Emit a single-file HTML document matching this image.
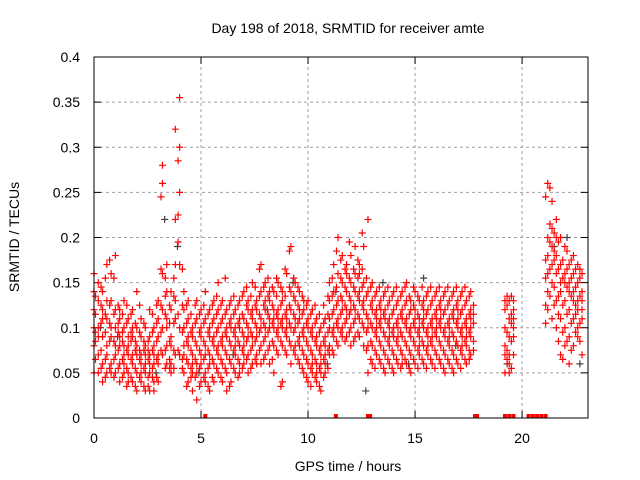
<!DOCTYPE html>
<html><head><meta charset="utf-8"><style>
html,body{margin:0;padding:0;background:#fff}
svg{display:block;font-family:"Liberation Sans",sans-serif}
</style></head><body>
<svg id="chart" width="640" height="480" viewBox="0 0 640 480">
<rect width="640" height="480" fill="#fff"/>
<text x="348" y="33" font-size="14" text-anchor="middle">Day 198 of 2018, SRMTID for receiver amte</text>
<text x="348" y="471" font-size="14" text-anchor="middle">GPS time / hours</text>
<text transform="translate(19,237) rotate(-90)" font-size="14" text-anchor="middle">SRMTID / TECUs</text>
<g id="grid"></g>
<g id="ticks"></g>
<g id="marks"></g>
<rect x="94" y="57" width="494" height="361" fill="none" stroke="#000" stroke-width="1"/>
</svg>
<script>
const xTicks=[0,5,10,15,20];
const yTicks=[0,0.05,0.1,0.15,0.2,0.25,0.3,0.35,0.4];
const yTickLabels=["0","0.05","0.1","0.15","0.2","0.25","0.3","0.35","0.4"];
const redRows=[
[0.0,.08,.12,.16,.05,.10,.14],[0.2,.10,.07,.13,.05,.09,.15],[0.4,.09,.06,.12,.04,.14,.11],
[0.6,.08,.05,.11,.17,.13,.07],[0.8,.10,.06,.09,.13,.16,.05],[1.0,.07,.18,.10,.05,.12,.08],
[1.2,.09,.06,.12,.04,.08,.11],[1.4,.07,.10,.05,.13,.08,.06],[1.6,.08,.05,.11,.07,.09,.04],
[1.8,.06,.09,.12,.07,.04,.10],[2.0,.07,.05,.10,.03,.08,.14],[2.2,.06,.09,.04,.11,.07,.05],
[2.4,.08,.03,.06,.10,.05,.07],[2.6,.05,.09,.03,.07,.12,.06],[2.8,.07,.04,.10,.06,.03,.08],
[3.0,.09,.13,.06,.11,.07,.04],[3.2,.26,.28,.16,.12,.07,.10],[3.4,.17,.14,.08,.11,.06,.10],
[3.6,.09,.12,.06,.14,.08,.05],[3.8,.22,.32,.11,.07,.13,.17],[4.0,.355,.30,.25,.17,.10,.07],
[4.2,.12,.08,.05,.10,.07,.14],[4.4,.09,.06,.11,.04,.08,.13],[4.6,.07,.05,.10,.03,.09,.06],
[4.8,.08,.02,.11,.06,.13,.05],[5.0,.09,.06,.12,.04,.07,.10],[5.2,.08,.05,.11,.07,.14,.04],
[5.4,.06,.09,.03,.12,.07,.10],[5.6,.08,.04,.11,.06,.09,.13],[5.8,.07,.10,.05,.08,.12,.15],
[6.0,.09,.06,.11,.04,.08,.13],[6.2,.07,.10,.05,.09,.12,.03],[6.4,.08,.06,.11,.04,.10,.13],
[6.6,.09,.07,.12,.05,.10,.08],[6.8,.10,.06,.13,.08,.11,.05],[7.0,.08,.11,.06,.14,.09,.07],
[7.2,.10,.07,.12,.05,.09,.13],[7.4,.09,.12,.06,.11,.08,.15],[7.6,.10,.07,.13,.09,.06,.12],
[7.8,.11,.08,.14,.06,.10,.17],[8.0,.12,.09,.15,.07,.10,.13],[8.2,.10,.13,.08,.11,.06,.14],
[8.4,.11,.08,.14,.10,.12,.05],[8.6,.09,.12,.07,.15,.11,.10],[8.8,.10,.13,.08,.11,.04,.14],
[9.0,.12,.09,.16,.07,.11,.10],[9.2,.10,.14,.08,.19,.12,.06],[9.4,.11,.08,.13,.10,.15,.07],
[9.6,.09,.12,.06,.11,.14,.08],[9.8,.10,.07,.13,.09,.05,.12],[10.0,.08,.11,.06,.10,.13,.04],
[10.2,.07,.10,.05,.09,.12,.06],[10.4,.06,.09,.04,.08,.11,.05],[10.6,.07,.05,.10,.03,.08,.06],
[10.8,.08,.06,.11,.05,.09,.07],[11.0,.10,.13,.08,.15,.07,.11],[11.2,.12,.09,.14,.17,.10,.07],
[11.4,.13,.10,.16,.20,.11,.08],[11.6,.12,.15,.10,.18,.09,.13],[11.8,.14,.11,.17,.09,.12,.16],
[12.0,.13,.10,.15,.12,.18,.08],[12.2,.12,.16,.09,.14,.11,.19],[12.4,.14,.11,.17,.09,.13,.16],
[12.6,.12,.15,.10,.19,.08,.13],[12.8,.11,.22,.14,.08,.10,.05],[13.0,.10,.13,.08,.12,.06,.15],
[13.2,.11,.09,.14,.07,.12,.10],[13.4,.10,.12,.08,.13,.06,.11],[13.6,.09,.12,.07,.11,.14,.05],
[13.8,.10,.08,.13,.06,.11,.09],[14.0,.09,.12,.07,.10,.14,.05],[14.2,.10,.08,.13,.06,.11,.09],
[14.4,.11,.09,.14,.07,.12,.06],[14.6,.10,.13,.08,.11,.06,.15],[14.8,.09,.12,.07,.10,.13,.05],
[15.0,.10,.08,.12,.06,.11,.14],[15.2,.09,.11,.07,.13,.08,.10],[15.4,.10,.13,.08,.11,.06,.12],
[15.6,.09,.12,.07,.10,.14,.08],[15.8,.10,.08,.13,.06,.11,.09],[16.0,.11,.09,.14,.07,.12,.10],
[16.2,.10,.13,.08,.11,.06,.12],[16.4,.09,.12,.07,.14,.10,.05],[16.6,.10,.08,.13,.06,.11,.09],
[16.8,.11,.09,.14,.07,.12,.05],[17.0,.10,.13,.08,.11,.06,.12],[17.2,.09,.12,.07,.10,.14,.08],
[17.4,.10,.08,.13,.06,.11,.09],[17.6,.11,.09,.14,.07,.12,.10],
[19.2,.13,.10,.07,.05,.12,.08],[19.4,.11,.07,.06,.13,.09,.05],[19.6,.12,.10,.07,.09,.13,.11],
[21.2,.14,.18,.20,.12,.26,.16],[21.4,.21,.17,.24,.15,.19,.11],[21.6,.20,.16,.13,.18,.22,.10],
[21.8,.17,.14,.20,.11,.07,.15],[22.0,.16,.13,.19,.10,.15,.08],[22.2,.15,.12,.17,.09,.14,.06],
[22.4,.14,.11,.16,.08,.13,.18],[22.6,.15,.12,.17,.10,.13,.09],[22.8,.16,.13,.11,.14,.07,.12]
];
const redRows2=[
[0.07,.085,.115,.065,.135,.095],[0.33,.075,.105,.145,.055,.125],[0.53,.095,.065,.155,.045,.115],
[0.73,.085,.125,.055,.105,.175],[0.93,.065,.115,.085,.155,.045],[1.13,.095,.075,.125,.055,.105],
[1.33,.085,.065,.115,.045,.095],[1.53,.075,.055,.105,.035,.125],[1.73,.065,.095,.045,.085,.115],
[1.93,.075,.055,.105,.035,.085],[2.13,.065,.045,.095,.075,.125],[2.33,.055,.085,.035,.075,.105],
[2.53,.065,.045,.085,.035,.075],[2.73,.075,.055,.095,.045,.115],[2.93,.085,.065,.045,.105,.125],
[3.13,.165,.245,.075,.125,.095],[3.33,.115,.155,.075,.055,.135],[3.53,.085,.065,.125,.105,.055],
[3.73,.075,.105,.135,.055,.155],[3.93,.195,.285,.225,.115,.075],[4.13,.095,.125,.065,.165,.055],
[4.33,.085,.105,.065,.125,.035],[4.53,.075,.095,.055,.115,.045],[4.73,.065,.085,.045,.105,.125],
[4.93,.075,.055,.095,.035,.115],[5.13,.085,.065,.105,.045,.125],[5.33,.075,.095,.055,.115,.035],
[5.53,.085,.065,.105,.125,.045],[5.73,.075,.095,.055,.115,.135],[5.93,.085,.105,.065,.125,.045],
[6.13,.075,.095,.055,.115,.155],[6.33,.085,.065,.105,.035,.125],[6.53,.095,.075,.115,.055,.135],
[6.73,.085,.105,.065,.125,.045],[6.93,.095,.075,.115,.055,.135],[7.13,.085,.105,.065,.125,.145],
[7.33,.095,.115,.075,.135,.055],[7.53,.105,.085,.125,.065,.145],[7.73,.095,.115,.075,.135,.165],
[7.93,.105,.085,.125,.065,.145],[8.13,.115,.095,.135,.075,.155],[8.33,.105,.125,.085,.145,.065],
[8.53,.115,.095,.135,.075,.155],[8.73,.105,.125,.085,.145,.035],[8.93,.115,.095,.135,.075,.165],
[9.13,.105,.125,.085,.145,.185],[9.33,.115,.095,.135,.075,.155],[9.53,.105,.125,.085,.145,.065],
[9.73,.095,.115,.075,.135,.055],[9.93,.085,.105,.065,.125,.045],[10.13,.075,.095,.055,.115,.035],
[10.33,.065,.085,.045,.105,.125],[10.53,.075,.055,.095,.035,.115],[10.73,.085,.065,.105,.045,.125],
[10.93,.095,.115,.075,.135,.055],[11.13,.115,.135,.095,.155,.075],[11.33,.125,.105,.145,.085,.185],
[11.53,.135,.115,.155,.095,.175],[11.73,.125,.145,.105,.165,.085],[11.93,.135,.115,.155,.095,.195],
[12.13,.125,.145,.105,.165,.085],[12.33,.135,.115,.155,.095,.175],[12.53,.125,.145,.105,.165,.205],
[12.73,.115,.135,.095,.155,.075],[12.93,.105,.125,.085,.145,.065],[13.13,.095,.115,.075,.135,.055],
[13.33,.105,.085,.125,.065,.145],[13.53,.095,.115,.075,.135,.055],[13.73,.105,.085,.125,.065,.145],
[13.93,.095,.115,.075,.135,.055],[14.13,.105,.085,.125,.065,.145],[14.33,.095,.115,.075,.135,.055],
[14.53,.105,.085,.125,.065,.145],[14.73,.095,.115,.075,.135,.055],[14.93,.105,.085,.125,.065,.145],
[15.13,.095,.115,.075,.135,.055],[15.33,.105,.085,.125,.065,.145],[15.53,.095,.115,.075,.135,.055],
[15.73,.105,.085,.125,.065,.145],[15.93,.095,.115,.075,.135,.055],[16.13,.105,.085,.125,.065,.145],
[16.33,.095,.115,.075,.135,.055],[16.53,.105,.085,.125,.065,.145],[16.73,.095,.115,.075,.135,.055],
[16.93,.105,.085,.125,.065,.145],[17.13,.095,.115,.075,.135,.055],[17.33,.105,.085,.125,.065,.145],
[17.53,.095,.115,.075,.135,.065],[17.73,.105,.085,.125,.075,.115],
[19.3,.125,.095,.065,.135,.075],[19.5,.105,.085,.055,.115,.135],
[21.1,.155,.125,.175,.245,.105],[21.3,.195,.215,.165,.255,.135],[21.5,.185,.205,.145,.175,.125],
[21.7,.165,.195,.135,.115,.085],[21.9,.155,.175,.125,.095,.065],[22.1,.145,.165,.115,.085,.185],
[22.3,.135,.155,.105,.075,.175],[22.5,.145,.125,.165,.095,.115],[22.7,.155,.135,.105,.085,.165]
];
const grayTimes=[0.3,1.1,2.9,3.3,3.9,4.9,6.5,8.1,9.3,10.9,11.3,12.7,13.5,14.7,15.4,16.9,19.3,21.5,22.1,22.7];
const grayValues=[0.10,0.09,0.05,0.22,0.19,0.05,0.07,0.12,0.15,0.06,0.14,0.03,0.15,0.06,0.155,0.08,0.06,0.19,0.20,0.06];
const zeroTimes=[5.2,11.3,12.8,12.9,17.8,17.9,19.2,19.4,19.6,20.3,20.5,20.7,20.9,21.1];

const X0=94,X1=588,Y0=418,Y1=57,XMAX=23.08,YMAX=0.4;
const xs=t=>X0+(t/XMAX)*(X1-X0);
const ys=v=>Y0-(v/YMAX)*(Y0-Y1);
const NS="http://www.w3.org/2000/svg";
function mk(tag,attrs,parent){const e=document.createElementNS(NS,tag);for(const k in attrs)e.setAttribute(k,attrs[k]);parent.appendChild(e);return e;}
const grid=document.getElementById('grid'),ticks=document.getElementById('ticks'),marks=document.getElementById('marks');
yTicks.forEach((v,i)=>{const y=ys(v);
 if(i>0&&i<yTicks.length-1){const g=mk('line',{x1:X0,x2:X1,y1:y,y2:y,stroke:'#a0a0a0','stroke-dasharray':'3,3'},grid);
 
 }
 mk('line',{x1:X0,x2:X0+7,y1:y,y2:y,stroke:'#000'},ticks);
 mk('line',{x1:X1-7,x2:X1,y1:y,y2:y,stroke:'#000'},ticks);
 const t=mk('text',{x:80,y:y+5,'font-size':14,'text-anchor':'end'},ticks);t.textContent=yTickLabels[i];
 
 
});
xTicks.forEach(v=>{const x=xs(v);
 if(v>0){const g=mk('line',{x1:x,x2:x,y1:Y0,y2:Y1,stroke:'#a0a0a0','stroke-dasharray':'3,3'},grid);
 
 }
 mk('line',{x1:x,x2:x,y1:Y0,y2:Y0-7,stroke:'#000'},ticks);
 mk('line',{x1:x,x2:x,y1:Y1,y2:Y1+7,stroke:'#000'},ticks);
 const t=mk('text',{x:x,y:443,'font-size':14,'text-anchor':'middle'},ticks);t.textContent=String(v);
 
 
});
function plus(t,v,color){const x=xs(t),y=ys(v);
 const p=mk('path',{d:`M${x-3.5} ${y}H${x+3.5}M${x} ${y-3.5}V${y+3.5}`,stroke:color,'stroke-width':1.2,fill:'none'},marks);
 
 
}
grayTimes.forEach((t,i)=>plus(t,grayValues[i],'#404040'));
redRows.forEach(r=>{for(let k=1;k<r.length;k++)plus(r[0],r[k],'#ff0000');});
redRows2.forEach(r=>{for(let k=1;k<r.length;k++)plus(r[0],r[k],'#ff0000');});
zeroTimes.forEach(t=>{const x=xs(t);const z=mk('rect',{x:x-2,y:Y0-4,width:4,height:4,fill:'#ff0000'},marks);
 
 });
</script>
</body></html>
